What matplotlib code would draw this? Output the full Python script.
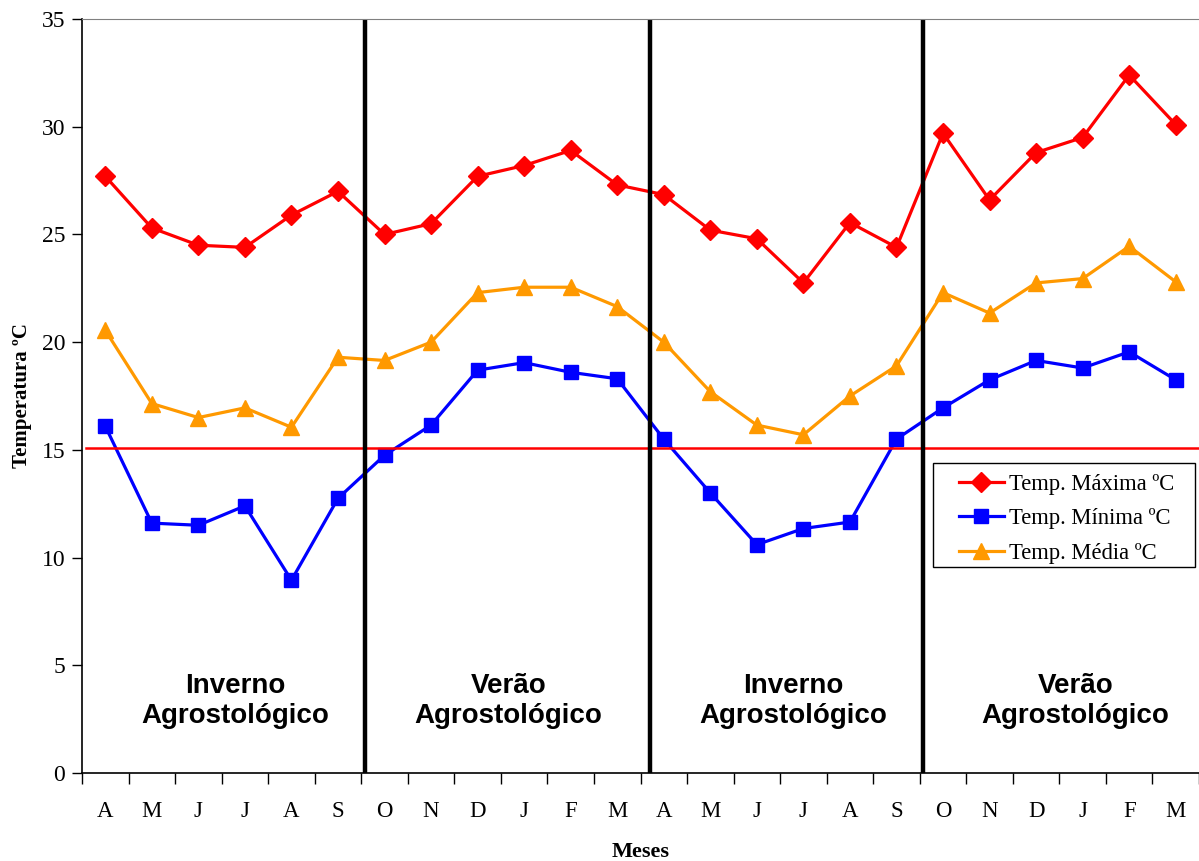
import numpy as np
import matplotlib
matplotlib.use('Agg')
import matplotlib.pyplot as plt
from matplotlib.patches import Rectangle

plt.rcParams['font.family'] = ['Liberation Serif', 'DejaVu Serif']

# dados
meses = ['A', 'M', 'J', 'J', 'A', 'S', 'O', 'N', 'D', 'J', 'F', 'M',
         'A', 'M', 'J', 'J', 'A', 'S', 'O', 'N', 'D', 'J', 'F', 'M']
t_max = [27.7, 25.3, 24.5, 24.4, 25.9, 27.0, 25.0, 25.5, 27.7, 28.2, 28.9, 27.3,
         26.85, 25.2, 24.8, 22.75, 25.55, 24.4, 29.7, 26.6, 28.8, 29.5, 32.4, 30.1]
t_min = [16.1, 11.6, 11.5, 12.4, 8.95, 12.75, 14.75, 16.15, 18.7, 19.05, 18.6, 18.3,
         15.5, 13.0, 10.6, 11.35, 11.65, 15.5, 16.95, 18.25, 19.15, 18.8, 19.55, 18.25]
t_med = [20.55, 17.15, 16.5, 16.95, 16.05, 19.3, 19.15, 20.0, 22.3, 22.55, 22.55, 21.65,
         20.0, 17.7, 16.15, 15.7, 17.5, 18.9, 22.3, 21.35, 22.75, 22.95, 24.45, 22.8]
limite = 15.1
estacoes = ['Inverno\nAgrostológico', 'Verão\nAgrostológico',
            'Inverno\nAgrostológico', 'Verão\nAgrostológico']
divisas = [6.07, 12.2, 18.08]
pos_texto = [2.8, 8.66, 14.78, 20.85]

x = np.arange(len(meses))

fig = plt.figure(figsize=(11.99, 8.61), dpi=100)
ax = fig.add_axes([0.0684, 0.1022, 0.9316, 0.8757])

ax.plot(x, t_max, color='#FF0000', lw=2.3, marker='D', ms=10, label='Temp. Máxima ºC')
ax.plot(x, t_min, color='#0000FF', lw=2.3, marker='s', ms=10.5, label='Temp. Mínima ºC')
ax.plot(x, t_med, color='#FF9900', lw=2.3, marker='^', ms=11.5, label='Temp. Média ºC')

ax.axhline(limite, color='#FF0000', lw=1.8, xmin=0.004)
for d in divisas:
    ax.axvline(d - 0.5, color='black', lw=3.2, ymin=0.003, ymax=1)

for xt, s in zip(pos_texto, estacoes):
    ax.text(xt, 3.35, s, ha='center', va='center', fontsize=20, fontweight='bold',
            family=['Liberation Sans', 'DejaVu Sans'], linespacing=1.22)

ax.set_xlim(-0.5, 23.5)
ax.set_ylim(0, 35)
ax.set_yticks(np.arange(0, 36, 5))
ax.set_xticks(np.arange(-0.5, 24, 1))
ax.set_xticklabels([])
ax.set_xticks(x, minor=True)
ax.set_xticklabels(meses, minor=True)
ax.tick_params(axis='x', which='major', length=8, direction='out', width=1)
ax.tick_params(axis='x', which='minor', length=0, pad=20, labelsize=16.5)
ax.tick_params(axis='y', length=7, width=1, labelsize=17, pad=5)

ax.spines['top'].set_color('#808080')
ax.spines['right'].set_visible(False)
ax.spines['left'].set_linewidth(1.2)
ax.spines['bottom'].set_linewidth(1.2)

ax.set_ylabel('Temperatura ºC', fontsize=15, fontweight='bold', labelpad=7)
ax.set_xlabel('Meses', fontsize=16, fontweight='bold')
ax.xaxis.set_label_coords(0.5, -0.092)

# caixa da legenda desenhada a parte (mais folga lateral)
ax.add_patch(Rectangle((0.7619, 0.2732), 0.2345, 0.1379, transform=ax.transAxes,
                       facecolor='white', edgecolor='black', lw=1.0, zorder=4))
leg = ax.legend(loc='center', bbox_to_anchor=(0.8815, 0.337), fontsize=16.3,
                frameon=False, handlelength=2.0, handletextpad=0.25,
                borderpad=0, labelspacing=0.6, borderaxespad=0)
leg.set_zorder(5)

fig.savefig('out.png', dpi=100)
